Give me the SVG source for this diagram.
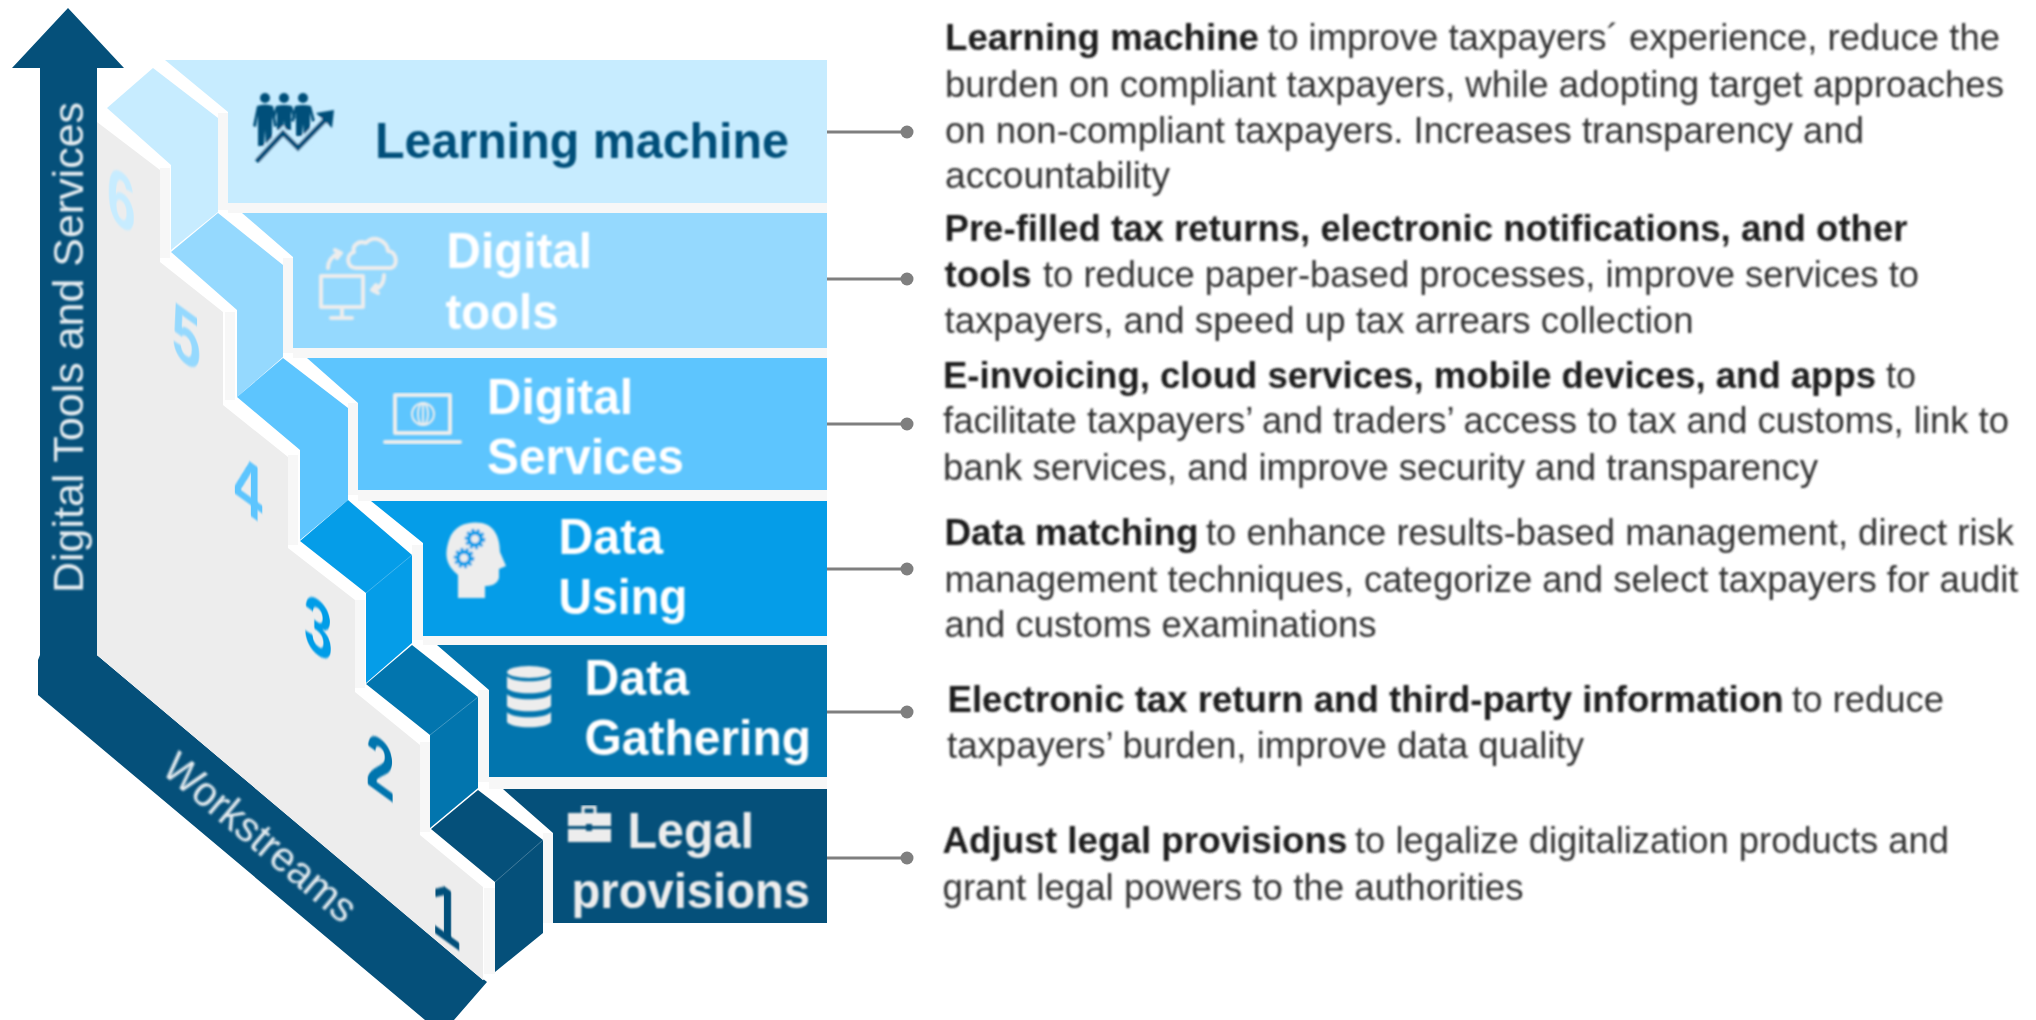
<svg xmlns="http://www.w3.org/2000/svg" width="2036" height="1020" viewBox="0 0 2036 1020">
<style>
.d{font-family:"Liberation Sans",Arial,sans-serif;font-size:36.500px;fill:#333}
.b{font-family:"Liberation Sans",Arial,sans-serif;font-size:36.500px;font-weight:700;fill:#1f1f1f}
.l{font-family:"Liberation Sans",Arial,sans-serif;font-size:50px;font-weight:700;fill:#fff}
.n{font-family:"Liberation Sans",Arial,sans-serif;font-size:78px;font-weight:700}
.ax{font-family:"Liberation Sans",Arial,sans-serif;font-size:42px;fill:#e6edf1}
.ic{fill:none;stroke:#ededed;stroke-width:4;stroke-linecap:round;stroke-linejoin:round}
.seam{stroke-width:1;opacity:.25;stroke:#fff;fill:none}
.band{fill:#f7f7f7}
.c{stroke:#7f7f7f;stroke-width:3;fill:none;marker-end:url(#dot)}
.soft{filter:url(#soft)}
</style>
<defs>
<filter id="soft" x="-5%" y="-5%" width="110%" height="110%"><feGaussianBlur stdDeviation="0.8"/></filter>
<marker id="dot" markerUnits="userSpaceOnUse" markerWidth="14" markerHeight="14" refX="7" refY="7"><circle cx="7" cy="7" r="6.5" fill="#7f7f7f"/></marker>
<path id="person" d="M-8,0Q0,-3 8,0L12,20L9,21L7,9L7,40L1,40L0,24L-1,40L-7,40L-7,9L-9,21L-12,20Z"/>
</defs>
<rect width="2036" height="1020" fill="#fff"/>

<g id="axes">
<polygon fill="#05507a" points="68,8 124,68 97,68 97,655 482,978 487,982 454,1020 425,1020 38,695 38,660 40,655 40,68 12,68"/>
<polygon fill="#fff" points="97,108 107,108 170,163 170,252 235,308 235,397 298,450 298,541 365,593 365,684 430,735 430,829 495,882 495,972 483,980 97,655"/>
<polygon fill="#ededed" points="97,122 160,170 160,262 223,312 223,405 288,457 288,548 355,600 355,692 420,745 420,835 483,887 483,980 97,655"/>
<g class="band">
<rect x="160" y="168" width="10" height="90"/><rect x="225" y="312" width="10" height="88"/><rect x="288" y="455" width="10" height="90"/><rect x="355" y="600" width="10" height="88"/><rect x="420" y="742" width="10" height="90"/><rect x="484" y="888" width="11" height="86"/>
</g>
<text class="ax soft" transform="translate(83,593) rotate(-90)" textLength="491" lengthAdjust="spacingAndGlyphs">Digital Tools and Services</text>
<text class="ax soft" transform="translate(160,772) rotate(40)" textLength="238" lengthAdjust="spacingAndGlyphs">Workstreams</text>
</g>

<g id="connectors">
<path class="c" d="M827,132H907"/>
<path class="c" d="M827,279H907"/>
<path class="c" d="M827,424H907"/>
<path class="c" d="M827,569H907"/>
<path class="c" d="M827,712H907"/>
<path class="c" d="M827,858H907"/>
</g>

<g id="node-learning-machine">
<rect class="band" x="228" y="203" width="599" height="10"/><rect class="band" x="218" y="113" width="10" height="97"/>
<polygon fill="#c7ecff" points="165,60 827,60 827,203 228,203 228,112"/>
<polygon fill="#c7ecff" points="107,108 153,68 218,118 218,212 171,250 171,165"/>
<text class="n soft" fill="#c7ecff" transform="translate(107,216) skewY(36) scale(.66,1)">6</text>
<g class="soft" fill="#05507a">
<circle cx="265" cy="98" r="5"/><circle cx="284" cy="98" r="5"/><circle cx="303" cy="98" r="5"/>
<use href="#person" transform="translate(265,106)"/>
<use href="#person" transform="translate(284,106) scale(1,.6)"/>
<use href="#person" transform="translate(303,106) scale(1,.75)"/>
<path d="M258,160L283,133L298,148L328,117" fill="none" stroke="#c7ecff" stroke-width="10"/>
<path d="M258,160L283,133L298,148L328,117" fill="none" stroke="#05507a" stroke-width="5" stroke-linecap="round"/>
<polygon points="334,110 332,128 316,113"/>
</g>
<text class="l soft" x="375" y="158" style="fill:#05507a" textLength="414" lengthAdjust="spacingAndGlyphs">Learning machine</text>
</g>

<g id="node-digital-tools">
<rect class="band" x="293" y="348" width="534" height="10"/><rect class="band" x="283" y="258" width="10" height="95"/>
<polygon fill="#95d9fe" points="242,213 827,213 827,348 293,348 293,257"/>
<polygon fill="#95d9fe" points="171,252 218,213 283,265 283,357 237,397 237,310"/>
<text class="n soft" fill="#95d9fe" transform="translate(172,353) skewY(36) scale(.66,1)">5</text>
<g class="ic soft">
<rect x="321" y="276" width="42" height="31"/><path d="M342,307V316M331,318H352"/>
<path d="M356,268H390C398,268 398,252 388,251C387,241 374,234 366,243C358,240 352,246 354,252C346,254 346,268 356,268Z"/>
<path d="M328,268C328,260 332,256 339,253M335,250L341,253L337,258"/>
<path d="M384,275C384,283 380,288 374,290M378,293L372,290L376,285"/>
</g>
<text class="l soft" x="446.500" y="268" textLength="145.500" lengthAdjust="spacingAndGlyphs">Digital</text>
<text class="l soft" x="445.500" y="329" textLength="113" lengthAdjust="spacingAndGlyphs">tools</text>
</g>

<g id="node-digital-services">
<rect class="band" x="358" y="490" width="469" height="11"/><rect class="band" x="348" y="403" width="10" height="92"/>
<polygon fill="#5dc5fe" points="307,358 827,358 827,490 358,490 358,403"/>
<polygon fill="#5dc5fe" points="237,397 283,358 348,408 348,500 300,540 300,450"/>
<text class="n soft" fill="#5dc5fe" transform="translate(234,504) skewY(36) scale(.66,1)">4</text>
<g class="ic soft">
<rect x="395" y="395" width="55" height="38"/><path d="M385,442H460" stroke-width="4"/>
<circle cx="423" cy="414" r="11" stroke-width="2"/><ellipse cx="423" cy="414" rx="5" ry="11" stroke-width="2"/><path d="M423,403V425" stroke-width="2"/>
</g>
<text class="l soft" x="487" y="414" textLength="146" lengthAdjust="spacingAndGlyphs">Digital</text>
<text class="l soft" x="487" y="474" textLength="197" lengthAdjust="spacingAndGlyphs">Services</text>
</g>

<g id="node-data-using">
<rect class="band" x="423" y="636" width="404" height="9"/><rect class="band" x="412" y="545" width="11" height="95"/>
<polygon fill="#059de8" points="371,501 827,501 827,636 423,636 423,543"/>
<polygon fill="#059de8" points="300,541 348,500 412,555 412,643 366,683 366,593"/>
<path class="seam" d="M366,593L412,555"/>
<text class="n soft" fill="#059de8" transform="translate(304,644) skewY(36) scale(.66,1)">3</text>
<g class="soft">
<path fill="#ededed" d="M458,598V575C446,565 444,555 449,540C454,524 470,521 482,523C495,526 500,538 500,552L506,566L499,569V578C497,585 490,586 485,586V598Z"/>
<circle cx="475" cy="539" r="6" fill="none" stroke="#059de8" stroke-width="4"/><circle cx="475" cy="539" r="9" fill="none" stroke="#059de8" stroke-width="2.500" stroke-dasharray="3 2.500"/>
<circle cx="464" cy="558" r="6" fill="none" stroke="#059de8" stroke-width="4"/><circle cx="464" cy="558" r="9" fill="none" stroke="#059de8" stroke-width="2.500" stroke-dasharray="3 2.500"/>
</g>
<text class="l soft" x="558.500" y="554" textLength="104.500" lengthAdjust="spacingAndGlyphs">Data</text>
<text class="l soft" x="558.500" y="614" textLength="129" lengthAdjust="spacingAndGlyphs">Using</text>
</g>

<g id="node-data-gathering">
<rect class="band" x="489" y="777" width="338" height="12"/><rect class="band" x="478" y="690" width="11" height="92"/>
<polygon fill="#0275ae" points="437,645 827,645 827,777 489,777 489,690"/>
<polygon fill="#0275ae" points="366,684 412,645 478,697 478,788 430,828 430,735"/>
<path class="seam" d="M430,735L478,697"/>
<text class="n soft" fill="#0275ae" transform="translate(366,783) skewY(36) scale(.66,1)">2</text>
<g class="soft" fill="#ededed">
<ellipse cx="529" cy="672" rx="22" ry="6"/>
<path d="M507,676C512,683 546,683 551,676V688C546,695 512,695 507,688Z"/>
<path d="M507,694C512,701 546,701 551,694V706C546,713 512,713 507,706Z"/>
<path d="M507,712C512,719 546,719 551,712V722C546,729 512,729 507,722Z"/>
</g>
<text class="l soft" x="584.500" y="695" textLength="104.500" lengthAdjust="spacingAndGlyphs">Data</text>
<text class="l soft" x="584.500" y="755" textLength="226.500" lengthAdjust="spacingAndGlyphs">Gathering</text>
</g>

<g id="node-legal-provisions">
<rect class="band" x="543" y="833" width="10" height="90"/>
<polygon fill="#05507a" points="503,789 827,789 827,923 553,923 553,833"/>
<polygon fill="#05507a" points="431,829 478,790 543,840 543,933 495,972 495,882"/>
<path class="seam" d="M495,882L543,840"/>
<text class="n soft" fill="#05507a" transform="translate(432,931) skewY(36) scale(.66,1)">1</text>
<g class="soft">
<path d="M583,813V807H595V813" fill="none" stroke="#ededed" stroke-width="3"/>
<path fill="#ededed" d="M568,813H611V826H592V824H586V826H568ZM568,829H586V831H592V829H611V842H568Z"/>
</g>
<text class="l soft" x="627.500" y="848" style="fill:#ededed" textLength="126.500" lengthAdjust="spacingAndGlyphs">Legal</text>
<text class="l soft" x="571.500" y="908" style="fill:#ededed" textLength="238.500" lengthAdjust="spacingAndGlyphs">provisions</text>
</g>

<g id="desc-learning-machine" class="soft">
<text class="b" x="945" y="50" textLength="314" lengthAdjust="spacingAndGlyphs">Learning machine</text>
<text class="d" x="1268" y="50" textLength="732" lengthAdjust="spacingAndGlyphs">to improve taxpayers´ experience, reduce the</text>
<text class="d" x="945" y="97" textLength="1059" lengthAdjust="spacingAndGlyphs">burden on compliant taxpayers, while adopting target approaches</text>
<text class="d" x="945" y="143" textLength="919" lengthAdjust="spacingAndGlyphs">on non-compliant taxpayers. Increases transparency and</text>
<text class="d" x="945" y="188" textLength="225" lengthAdjust="spacingAndGlyphs">accountability</text>
</g>
<g id="desc-digital-tools" class="soft">
<text class="b" x="944.500" y="241" textLength="963" lengthAdjust="spacingAndGlyphs">Pre-filled tax returns, electronic notifications, and other</text>
<text class="b" x="944.500" y="287" textLength="87" lengthAdjust="spacingAndGlyphs">tools</text>
<text class="d" x="1043" y="287" textLength="876" lengthAdjust="spacingAndGlyphs">to reduce paper-based processes, improve services to</text>
<text class="d" x="944.500" y="333" textLength="749" lengthAdjust="spacingAndGlyphs">taxpayers, and speed up tax arrears collection</text>
</g>
<g id="desc-digital-services" class="soft">
<text class="b" x="943" y="388" textLength="933" lengthAdjust="spacingAndGlyphs">E-invoicing, cloud services, mobile devices, and apps</text>
<text class="d" x="1886" y="388" textLength="30" lengthAdjust="spacingAndGlyphs">to</text>
<text class="d" x="943" y="433" textLength="1066" lengthAdjust="spacingAndGlyphs">facilitate taxpayers’ and traders’ access to tax and customs, link to</text>
<text class="d" x="943" y="480" textLength="875" lengthAdjust="spacingAndGlyphs">bank services, and improve security and transparency</text>
</g>
<g id="desc-data-using" class="soft">
<text class="b" x="944.500" y="545" textLength="254" lengthAdjust="spacingAndGlyphs">Data matching</text>
<text class="d" x="1206" y="545" textLength="808" lengthAdjust="spacingAndGlyphs">to enhance results-based management, direct risk</text>
<text class="d" x="944.500" y="592" textLength="1074" lengthAdjust="spacingAndGlyphs">management techniques, categorize and select taxpayers for audit</text>
<text class="d" x="944.500" y="637" textLength="432" lengthAdjust="spacingAndGlyphs">and customs examinations</text>
</g>
<g id="desc-data-gathering" class="soft">
<text class="b" x="947.500" y="712" textLength="836" lengthAdjust="spacingAndGlyphs">Electronic tax return and third-party information</text>
<text class="d" x="1792" y="712" textLength="152" lengthAdjust="spacingAndGlyphs">to reduce</text>
<text class="d" x="947" y="758" textLength="637" lengthAdjust="spacingAndGlyphs">taxpayers’ burden, improve data quality</text>
</g>
<g id="desc-legal-provisions" class="soft">
<text class="b" x="942.500" y="853" textLength="405" lengthAdjust="spacingAndGlyphs">Adjust legal provisions</text>
<text class="d" x="1355" y="853" textLength="594" lengthAdjust="spacingAndGlyphs">to legalize digitalization products and</text>
<text class="d" x="942.500" y="900" textLength="581" lengthAdjust="spacingAndGlyphs">grant legal powers to the authorities</text>
</g>
</svg>
